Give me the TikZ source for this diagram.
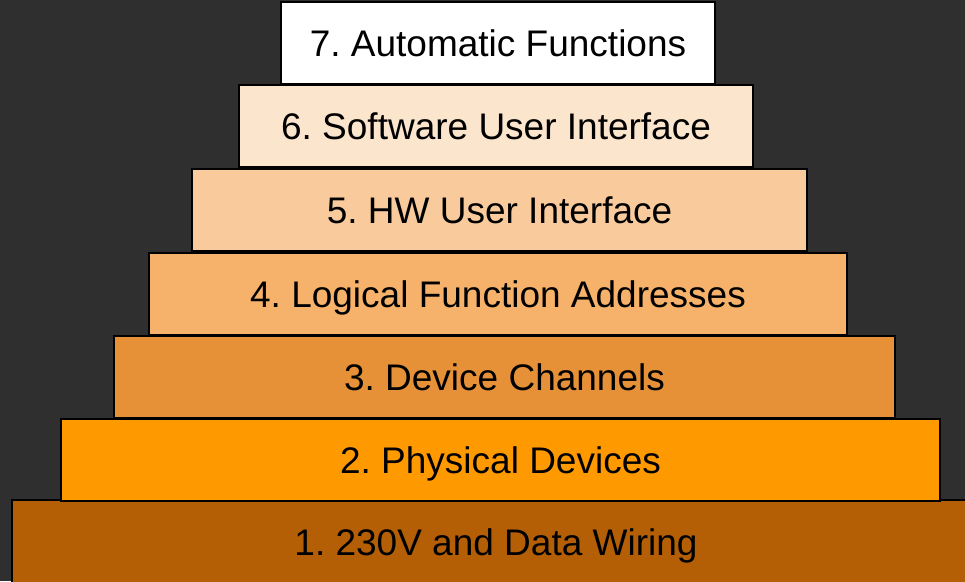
\documentclass[tikz,border=0pt]{standalone}
\usepackage{fontspec}
\setmainfont{Liberation Sans}
\usepackage{tikz}
\definecolor{bgdark}{HTML}{2F2F2F}
\definecolor{layerone}{HTML}{B45F06}
\definecolor{layertwo}{HTML}{FF9900}
\definecolor{layerthree}{HTML}{E69138}
\definecolor{layerfour}{HTML}{F6B26B}
\definecolor{layerfive}{HTML}{F9CB9C}
\definecolor{layersix}{HTML}{FCE5CD}
\frenchspacing
\begin{document}
\begin{tikzpicture}[x=1pt,y=-1pt,
  layer/.style={draw=black,line width=1.6pt,inner sep=0pt,minimum height=82pt,
    text height=26.5pt,text depth=0pt,
    font=\fontsize{37}{40}\selectfont,text=black}]
 \fill[bgdark] (0,0) rectangle (965,581);
 \useasboundingbox (0,0) rectangle (965,581);
 \node[layer,fill=layerone,minimum width=968pt,minimum height=84pt] (l1) at (496,542) {1. 230V and Data Wiring};
 \node[layer,fill=layertwo,minimum width=879pt] (l2) at (500.5,460) {2. Physical Devices};
 \node[layer,fill=layerthree,minimum width=781pt] (l3) at (504.5,377) {3. Device Channels};
 \node[layer,fill=layerfour,minimum width=698pt] (l4) at (498,294) {4. Logical Function Addresses};
 \node[layer,fill=layerfive,minimum width=615pt] (l5) at (499.5,210) {5. HW User Interface};
 \node[layer,fill=layersix,minimum width=514pt] (l6) at (496,126) {6. Software User Interface};
 \node[layer,fill=white,minimum width=434pt] (l7) at (498,43) {7. Automatic Functions};
\end{tikzpicture}
\end{document}
